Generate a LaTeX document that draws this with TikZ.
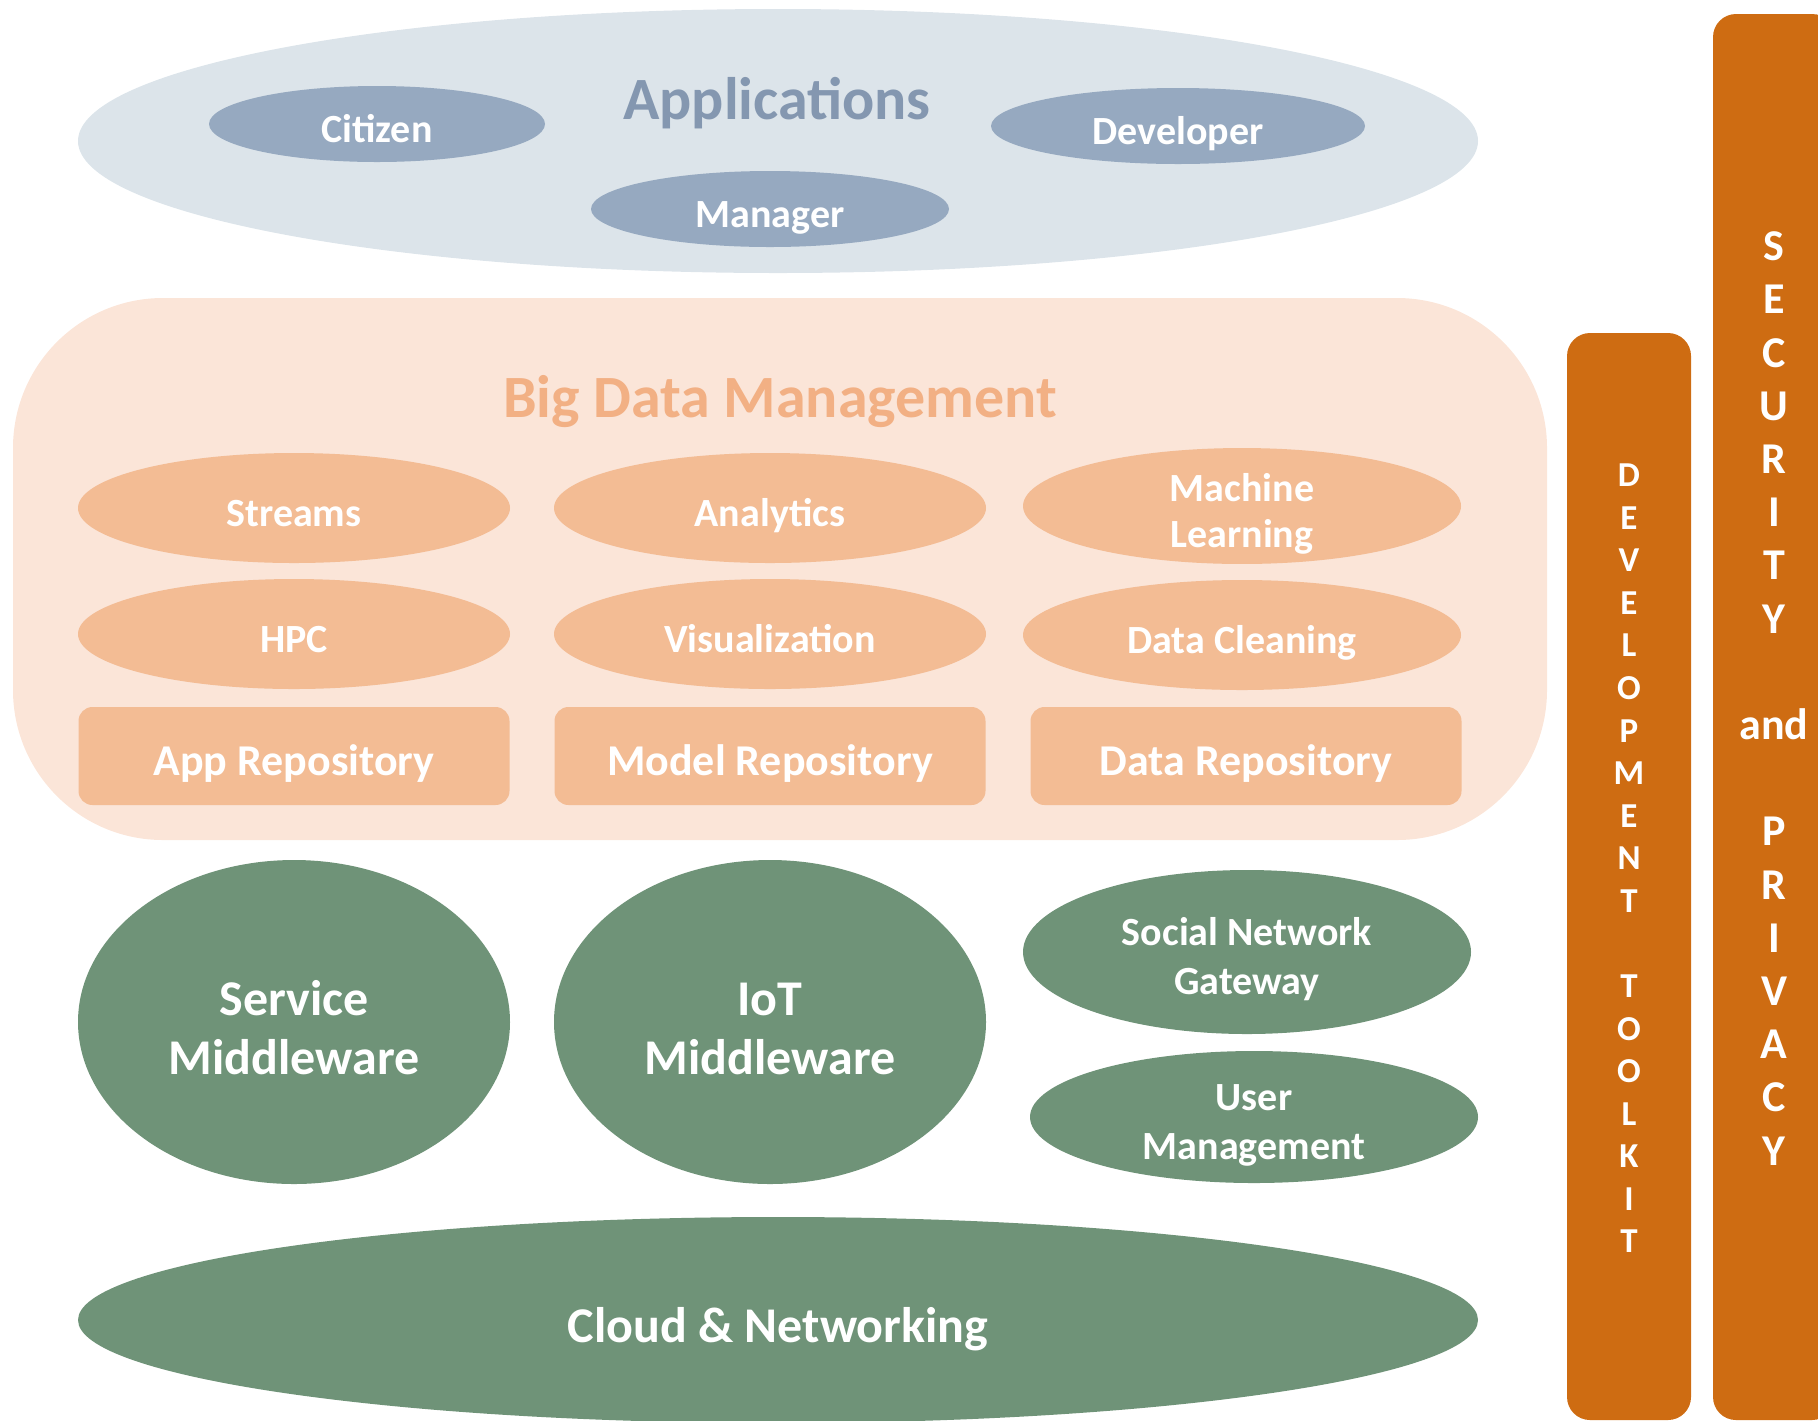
\documentclass[tikz,border=0pt]{standalone}
\usepackage{fontspec}
\setmainfont{Carlito}
\usetikzlibrary{shapes.geometric}
\definecolor{appbg}{HTML}{DCE4EA}
\definecolor{appin}{HTML}{96A9C0}
\definecolor{apptx}{HTML}{8497B0}
\definecolor{bdmbg}{HTML}{FBE5D8}
\definecolor{bdmin}{HTML}{F3BC94}
\definecolor{bdmtx}{HTML}{F2B084}
\definecolor{grn}{HTML}{6F9378}
\definecolor{orng}{HTML}{CE6C12}
\newcommand\lbl[1]{\vrule width0pt height0.9em depth0pt\smash{#1}}
\tikzset{
  base/.style={inner sep=0pt, outer sep=0pt, draw=none, text=white, font=\bfseries},
  oval/.style={base, ellipse},
  appin/.style={oval, fill=appin, minimum height=38pt, font=\bfseries\fontsize{20}{23}\selectfont},
  bdmoval/.style={oval, fill=bdmin, minimum width=216pt, minimum height=55pt, align=center, font=\bfseries\fontsize{20}{23}\selectfont},
  repo/.style={base, rectangle, rounded corners=7pt, fill=bdmin, minimum width=215.5pt, minimum height=49pt, font=\bfseries\fontsize{22}{26}\selectfont},
  bigmid/.style={oval, fill=grn, minimum width=216pt, minimum height=162pt, align=center, font=\bfseries\fontsize{25}{29.5}\selectfont},
  smallmid/.style={oval, fill=grn, minimum width=224pt, align=center, font=\bfseries\fontsize{20}{24.5}\selectfont},
  bar/.style={base, rectangle, fill=orng, rounded corners=11.5pt},
}
\begin{document}
\begin{tikzpicture}[x=0.5pt,y=-0.5pt]
\useasboundingbox (0,0) rectangle (1818,1420);
\clip (0,0) rectangle (1818,1420);
% Applications
\node[oval, fill=appbg, minimum width=700pt, minimum height=132pt] (apps) at (778,141) {};
\node[base, text=apptx, font=\bfseries\fontsize{30}{36}\selectfont] (appsT) at (777,92) {\lbl{Applications}};
\node[appin, minimum width=168pt] (citizen) at (377,124) {\lbl{Citizen}};
\node[appin, minimum width=187pt] (developer) at (1178,126) {\lbl{Developer}};
\node[appin, minimum width=179pt] (manager) at (770,209) {\lbl{Manager}};
% Big Data Management
\node[base, rectangle, rounded corners=75pt, fill=bdmbg, minimum width=767pt, minimum height=271pt] (bdm) at (780,569) {};
\node[base, text=bdmtx, font=\bfseries\fontsize{30}{36}\selectfont] (bdmT) at (780,390) {\lbl{Big Data Management}};
\node[bdmoval] (streams) at (294,508) {\lbl{Streams}};
\node[bdmoval] (analytics) at (770,508) {\lbl{Analytics}};
\node[bdmoval, minimum width=219pt] (ml) at (1242,506) {\lbl{Machine}\\\lbl{Learning}};
\node[bdmoval] (hpc) at (294,634) {\lbl{HPC}};
\node[bdmoval] (vis) at (770,634) {\lbl{Visualization}};
\node[bdmoval, minimum width=219pt] (clean) at (1242,635) {\lbl{Data Cleaning}};
\node[repo] (apprepo) at (294,756) {\lbl{App Repository}};
\node[repo] (modelrepo) at (770,756) {\lbl{Model Repository}};
\node[repo] (datarepo) at (1246,756) {\lbl{Data Repository}};
% Middleware
\node[bigmid] (service) at (294,1022) {\lbl{Service}\\\lbl{Middleware}};
\node[bigmid] (iot) at (770,1022) {\lbl{IoT}\\\lbl{Middleware}};
\node[smallmid, minimum height=82pt] (social) at (1247,952) {\lbl{Social Network}\\\lbl{Gateway}};
\node[smallmid, minimum height=66pt] (user) at (1254,1117) {\lbl{User}\\\lbl{Management}};
\node[oval, fill=grn, minimum width=700pt, minimum height=103pt, font=\bfseries\fontsize{25}{29.5}\selectfont] (cloud) at (778,1320) {\lbl{Cloud \& Networking}};
% Side bars
\node[bar, minimum width=62pt, minimum height=543.5pt] (devbar) at (1629,876.5) {};
\node[base, align=center, font=\bfseries\fontsize{17.5}{21.28}\selectfont] (devtx) at (1629,854)
 {\lbl{D}\\\lbl{E}\\\lbl{V}\\\lbl{E}\\\lbl{L}\\\lbl{O}\\\lbl{P}\\\lbl{M}\\\lbl{E}\\\lbl{N}\\\lbl{T}\\\lbl{}\\\lbl{T}\\\lbl{O}\\\lbl{O}\\\lbl{L}\\\lbl{K}\\\lbl{I}\\\lbl{T}};
\node[bar, minimum width=61pt, minimum height=703pt] (secbar) at (1774,717) {};
\node[base, align=center, font=\bfseries\fontsize{22}{26.6}\selectfont] (sectx) at (1774,693)
 {\lbl{S}\\\lbl{E}\\\lbl{C}\\\lbl{U}\\\lbl{R}\\\lbl{I}\\\lbl{T}\\\lbl{Y}\\\lbl{}\\\lbl{and}\\\lbl{}\\\lbl{P}\\\lbl{R}\\\lbl{I}\\\lbl{V}\\\lbl{A}\\\lbl{C}\\\lbl{Y}};
\end{tikzpicture}
\end{document}
